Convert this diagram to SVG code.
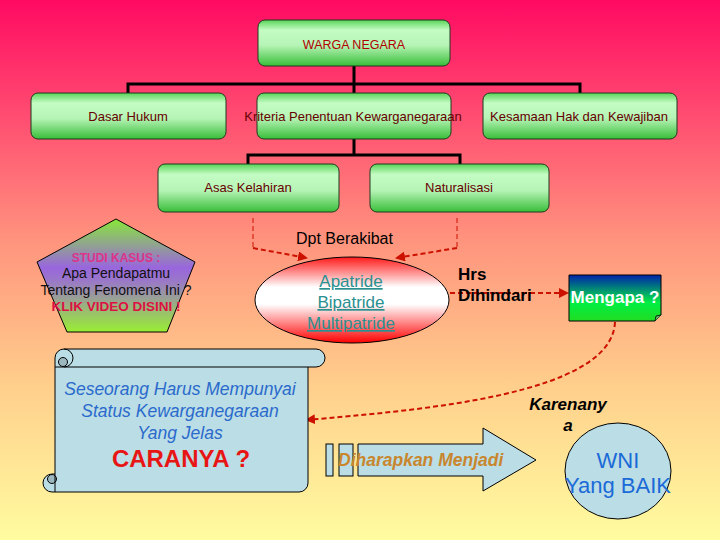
<svg xmlns="http://www.w3.org/2000/svg" width="720" height="540" viewBox="0 0 720 540">
<defs>
<linearGradient id="bg" x1="0" y1="0" x2="0" y2="1">
<stop offset="0" stop-color="#FF0A62"/>
<stop offset="0.2" stop-color="#FF4870"/>
<stop offset="0.45" stop-color="#FF957E"/>
<stop offset="0.72" stop-color="#FFD08C"/>
<stop offset="1" stop-color="#FFFCA0"/>
</linearGradient>
<linearGradient id="gbox" x1="0" y1="0" x2="0" y2="1">
<stop offset="0" stop-color="#58D458"/>
<stop offset="0.22" stop-color="#C4FCC4"/>
<stop offset="0.55" stop-color="#B6F4B6"/>
<stop offset="1" stop-color="#38BE38"/>
</linearGradient>
<linearGradient id="gell" x1="0" y1="0" x2="0" y2="1">
<stop offset="0" stop-color="#FF1A1A"/>
<stop offset="0.35" stop-color="#FFFFFF"/>
<stop offset="0.55" stop-color="#FFFFFF"/>
<stop offset="1" stop-color="#FF0000"/>
</linearGradient>
<linearGradient id="gmeng" x1="0" y1="0" x2="0" y2="1">
<stop offset="0" stop-color="#0022AA"/>
<stop offset="0.6" stop-color="#00EE44"/>
<stop offset="1" stop-color="#22DD22"/>
</linearGradient>
<linearGradient id="gpent" x1="0" y1="0" x2="0" y2="1">
<stop offset="0" stop-color="#88E838"/>
<stop offset="0.43" stop-color="#9966DD"/>
<stop offset="0.55" stop-color="#9A78C8"/>
<stop offset="1" stop-color="#99EE33"/>
</linearGradient>
<marker id="ah" viewBox="0 0 10 10" refX="9" refY="5" markerWidth="5" markerHeight="5" orient="auto" markerUnits="strokeWidth">
<path d="M0,0 L10,5 L0,10 Z" fill="#CC1100"/>
</marker>
<style>
.box{fill:url(#gbox);stroke:#1E3A1E;stroke-width:1}
.lbl{font-family:"Liberation Sans",Arial,sans-serif;font-size:13px;fill:#660000;text-anchor:middle}
.tree{fill:none;stroke:#000;stroke-width:3}
.dash{fill:none;stroke:#CC1100;stroke-width:2;stroke-dasharray:5 3}
.dthin{fill:none;stroke:#CC1100;stroke-width:1;stroke-dasharray:5 3}
.sans{font-family:"Liberation Sans",Arial,sans-serif}
.lb{fill:#BBDDE5;stroke:#000;stroke-width:1}
</style>
</defs>
<rect width="720" height="540" fill="url(#bg)"/>

<g id="connectors">
<path class="tree" d="M354,66 V84 M128,93 V84 H580 V93 M354,84 V93"/>
<path class="tree" d="M354,139 V155 M248,164 V155 H460 V164"/>
<path class="dthin" d="M253,218 V248"/>
<path class="dash" d="M253,248 L307,258" marker-end="url(#ah)"/>
<path class="dthin" d="M457,218 V248"/>
<path class="dash" d="M457,248 L396,258" marker-end="url(#ah)"/>
<path class="dash" d="M450,293 H568" marker-end="url(#ah)"/>
<path class="dash" d="M615,322 C612,395 420,410 306,420" marker-end="url(#ah)"/>
</g>

<g id="warga-negara">
<rect class="box" x="258" y="20" width="192" height="46" rx="7"/>
<text class="lbl" x="354" y="48.5" style="fill:#B00000;font-size:12.5px">WARGA NEGARA</text>
</g>
<g id="dasar-hukum">
<rect class="box" x="31" y="93" width="195" height="46" rx="7"/>
<text class="lbl" x="128" y="120.5">Dasar Hukum</text>
</g>
<g id="kriteria">
<rect class="box" x="257" y="93" width="194" height="46" rx="7"/>
<text class="lbl" x="353" y="120.5">Kriteria Penentuan Kewarganegaraan</text>
</g>
<g id="kesamaan">
<rect class="box" x="483" y="93" width="194" height="46" rx="7"/>
<text class="lbl" x="579" y="120.5">Kesamaan Hak dan Kewajiban</text>
</g>
<g id="asas-kelahiran">
<rect class="box" x="158" y="164" width="181" height="48" rx="7"/>
<text class="lbl" x="248" y="192">Asas Kelahiran</text>
</g>
<g id="naturalisasi">
<rect class="box" x="370" y="164" width="179" height="48" rx="7"/>
<text class="lbl" x="459" y="192">Naturalisasi</text>
</g>

<g id="dpt-berakibat">
<text class="sans" x="296" y="244" font-size="16" fill="#000">Dpt Berakibat</text>
</g>

<g id="studi-kasus">
<polygon points="116,219 195,262 167,332 67,332 37,262" fill="url(#gpent)" stroke="#000" stroke-width="1"/>
<g class="sans" text-anchor="middle">
<text x="116" y="262" font-size="12" font-weight="bold" fill="#DD3388">STUDI KASUS :</text>
<text x="116" y="278" font-size="14" fill="#111">Apa Pendapatmu</text>
<text x="116" y="295" font-size="14" fill="#111">Tentang Fenomena Ini ?</text>
<text x="116" y="311" font-size="13.5" font-weight="bold" fill="#DD1144">KLIK VIDEO DISINI !</text>
</g>
</g>

<g id="patride">
<ellipse cx="352" cy="300" rx="97" ry="43" fill="url(#gell)" stroke="#000" stroke-width="1"/>
<g class="sans" text-anchor="middle" font-size="17" fill="#2A9090" text-decoration="underline">
<text x="351" y="287">Apatride</text>
<text x="351" y="308">Bipatride</text>
<text x="351" y="329">Multipatride</text>
</g>
</g>

<g id="hrs-dihindari">
<text class="sans" x="458" y="280" font-size="17" font-weight="bold" fill="#000">Hrs</text>
<text class="sans" x="458" y="301" font-size="17" font-weight="bold" fill="#000">Dihindari</text>
</g>

<g id="mengapa">
<path d="M569,275 H661 V315 L655,321 H569 Z" fill="url(#gmeng)" stroke="#000" stroke-width="1"/>
<path d="M655,321 L656,316 L661,315" fill="#66BB66" stroke="#000" stroke-width="0.8"/>
<text class="sans" x="615" y="303" font-size="17" font-weight="bold" fill="#FFF" text-anchor="middle">Mengapa ?</text>
</g>

<g id="karenanya">
<text class="sans" x="568" y="410" font-size="17" font-weight="bold" font-style="italic" fill="#000" text-anchor="middle">Karenany</text>
<text class="sans" x="568" y="431" font-size="17" font-weight="bold" font-style="italic" fill="#000" text-anchor="middle">a</text>
</g>

<g id="scroll">
<path class="lb" d="M64,349 H316 A9,9 0 0 1 316,367 H308 V483 A9,9 0 0 1 299,492 H52 A9,9 0 0 1 52,474 H55 V358 A9,9 0 0 1 64,349 Z"/>
<path fill="none" stroke="#000" stroke-width="1" d="M55,367 H308 M64,349 A9,9 0 0 1 64,367"/>
<circle cx="63" cy="362" r="4.5" fill="#9DB8BF" stroke="#000" stroke-width="1"/>
<circle cx="52" cy="479" r="4.5" fill="#9DB8BF" stroke="#000" stroke-width="1"/>
<path fill="none" stroke="#000" stroke-width="1" d="M55,474 V492"/>
<g class="sans" text-anchor="middle" font-style="italic" font-size="17.5" fill="#2A6ACC">
<text x="180" y="395">Seseorang Harus Mempunyai</text>
<text x="180" y="417">Status Kewarganegaraan</text>
<text x="180" y="439">Yang Jelas</text>
</g>
<text class="sans" x="181" y="467" font-size="24" font-weight="bold" fill="#E81515" text-anchor="middle">CARANYA ?</text>
</g>

<g id="diharapkan">
<rect class="lb" x="326" y="444" width="7" height="32"/>
<rect class="lb" x="339" y="444" width="14" height="32"/>
<polygon class="lb" points="358,444 483,444 483,428 536,460 483,491 483,476 358,476"/>
<text class="sans" x="338" y="466" font-size="17.5" font-weight="bold" font-style="italic" fill="#C8862E">Diharapkan Menjadi</text>
</g>

<g id="wni">
<ellipse class="lb" cx="618" cy="471" rx="53" ry="48"/>
<text class="sans" x="618" y="468" font-size="22" fill="#1A6AD8" text-anchor="middle">WNI</text>
<text class="sans" x="618" y="493" font-size="22" fill="#1A6AD8" text-anchor="middle">Yang BAIK</text>
</g>
</svg>
